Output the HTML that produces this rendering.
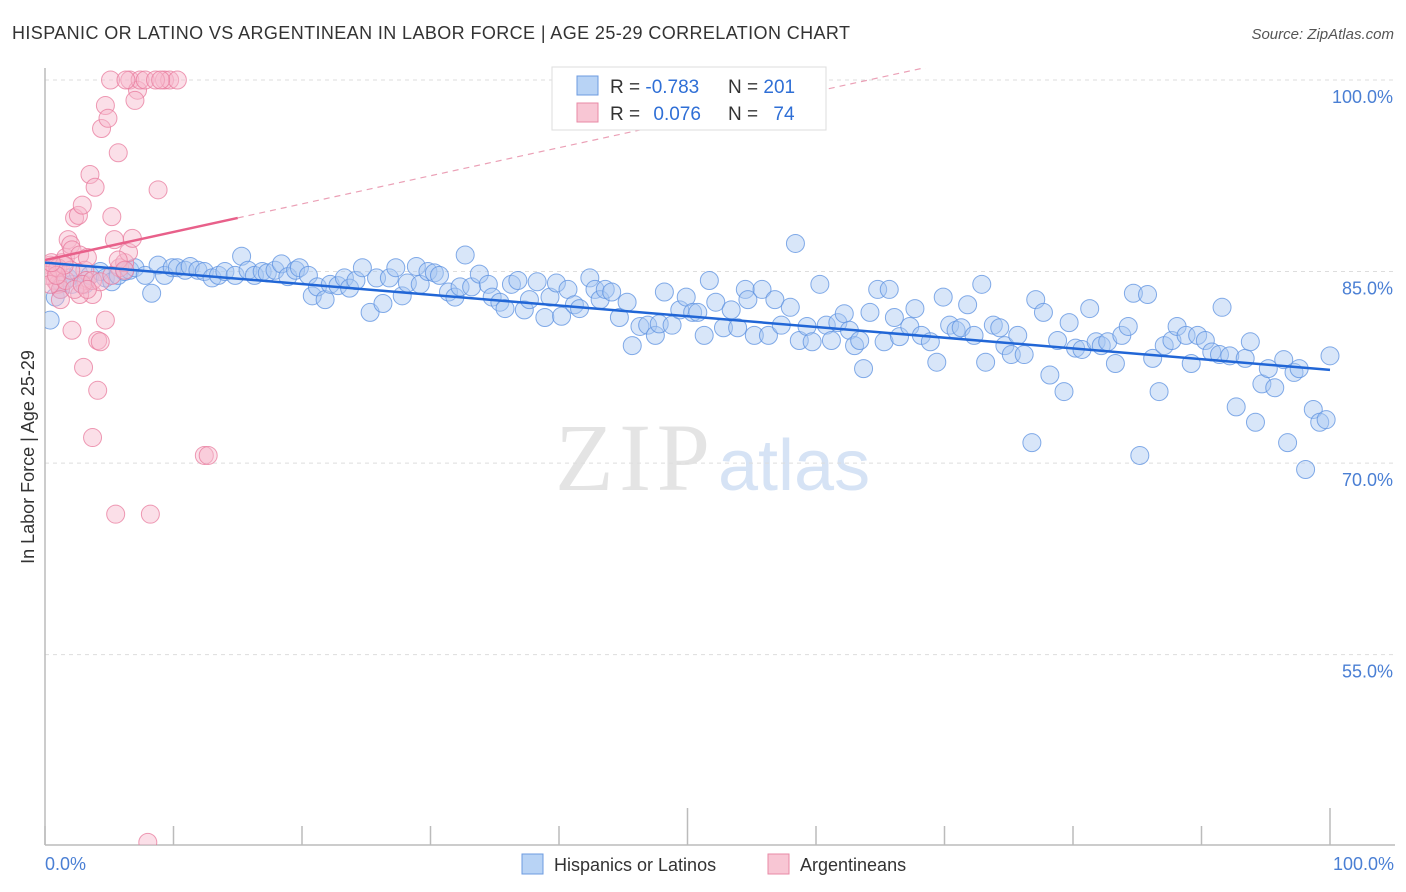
<!DOCTYPE html>
<html><head><meta charset="utf-8"><style>
body{margin:0;background:#fff;font-family:"Liberation Sans",sans-serif}
svg{display:block}
</style></head><body>
<svg id="chart" width="1406" height="892" viewBox="0 0 1406 892" xmlns="http://www.w3.org/2000/svg">
<text x="12" y="39" font-size="18" fill="#333" textLength="838" lengthAdjust="spacing" font-family="Liberation Sans, sans-serif">HISPANIC OR LATINO VS ARGENTINEAN IN LABOR FORCE | AGE 25-29 CORRELATION CHART</text>
<text x="1394" y="39" font-size="15" fill="#555" font-style="italic" text-anchor="end">Source: ZipAtlas.com</text>
<text x="555" y="490" font-size="96" fill="#e4e4e4" textLength="155" font-family="Liberation Serif, serif">ZIP</text>
<text x="718" y="490" font-size="72" fill="#d6e3f5">atlas</text>
<g id="grid"></g>
<g id="axes"></g>
<defs><clipPath id="plotclip"><rect x="45" y="68" width="1350" height="777"/></clipPath></defs>
<g id="marks" clip-path="url(#plotclip)"></g>
<text transform="translate(34,457) rotate(-90)" font-size="18" fill="#333" text-anchor="middle">In Labor Force | Age 25-29</text>
<text x="45" y="870" font-size="18" fill="#4a7fd4">0.0%</text>
<text x="1394" y="870" font-size="18" fill="#4a7fd4" text-anchor="end">100.0%</text>
<g>
<rect x="552" y="67" width="274" height="63" fill="#fff" stroke="#ddd"/>
<rect x="577" y="76" width="21" height="19" fill="#b8d3f5" stroke="#6c9be0"/>
<rect x="577" y="103" width="21" height="19" fill="#f8c6d4" stroke="#e88aa6"/>
<text x="610" y="93" font-size="19" fill="#333">R = <tspan fill="#2f6fd6">-0.783</tspan></text>
<text x="728" y="93" font-size="19" fill="#333">N = <tspan fill="#2f6fd6">201</tspan></text>
<text x="610" y="120" font-size="19" fill="#333">R = <tspan fill="#2f6fd6" dx="8">0.076</tspan></text>
<text x="728" y="120" font-size="19" fill="#333">N = <tspan fill="#2f6fd6" dx="10">74</tspan></text>
</g>
<g>
<rect x="522" y="854" width="21" height="20" fill="#b8d3f5" stroke="#6c9be0"/>
<text x="554" y="871" font-size="18" fill="#333">Hispanics or Latinos</text>
<rect x="768" y="854" width="21" height="20" fill="#f8c6d4" stroke="#e88aa6"/>
<text x="800" y="871" font-size="18" fill="#333">Argentineans</text>
</g>
</svg>
<script>
const yTicks=[100,85,70,55];
const yTickLabels=["100.0%","85.0%","70.0%","55.0%"];
const xTicks=[0,10,20,30,40,50,60,70,80,90,100];
const blueX=[0.4,0.8,1.2,1.3,1.8,2.1,2.6,3.1,3.5,4.3,4.7,5.2,5.7,6.2,6.6,7.0,7.8,8.3,8.8,9.3,9.9,10.3,10.9,11.3,11.9,12.4,13.0,13.5,14.0,14.8,15.3,15.8,16.3,16.9,17.3,17.9,18.4,18.9,19.5,19.8,20.5,20.8,21.2,21.8,22.2,22.8,23.3,23.7,24.2,24.7,25.3,25.8,26.3,26.8,27.3,27.8,28.2,28.9,29.2,29.8,30.3,30.7,31.4,31.9,32.3,32.7,33.2,33.8,34.5,34.8,35.4,35.8,36.3,36.8,37.3,37.7,38.3,38.9,39.3,39.8,40.2,40.7,41.2,41.6,42.4,42.8,43.2,43.6,44.1,44.7,45.3,45.7,46.3,46.9,47.5,47.8,48.2,48.8,49.4,49.9,50.4,50.8,51.3,51.7,52.2,52.8,53.4,53.9,54.5,54.7,55.2,55.8,56.3,56.8,57.3,58.0,58.4,58.7,59.3,59.7,60.3,60.8,61.2,61.7,62.2,62.6,63.0,63.4,63.7,64.2,64.8,65.3,65.7,66.1,66.5,67.3,67.7,68.2,68.9,69.4,69.9,70.4,70.9,71.3,71.8,72.3,72.9,73.2,73.8,74.3,74.7,75.2,75.7,76.2,76.8,77.1,77.7,78.2,78.8,79.3,79.7,80.2,80.7,81.3,81.8,82.2,82.7,83.3,83.8,84.3,84.7,85.2,85.8,86.2,86.7,87.1,87.7,88.1,88.8,89.2,89.7,90.3,90.8,91.4,91.6,92.2,92.7,93.4,93.8,94.2,94.7,95.2,95.7,96.4,96.7,97.2,97.6,98.1,98.7,99.2,99.7,100.0];
const blueY=[81.2,83.0,83.6,84.1,84.5,84.0,84.9,84.0,84.7,85.0,84.5,84.2,84.7,85.0,85.1,85.3,84.7,83.3,85.5,84.7,85.3,85.3,85.1,85.4,85.1,85.0,84.5,84.7,85.0,84.7,86.2,85.1,84.7,85.0,84.9,85.1,85.6,84.6,85.1,85.3,84.7,83.1,83.8,82.8,84.0,83.9,84.5,83.7,84.3,85.3,81.8,84.5,82.5,84.5,85.3,83.1,84.1,85.4,84.0,85.0,84.9,84.7,83.4,83.0,83.8,86.3,83.8,84.8,84.0,83.0,82.6,82.1,84.0,84.3,82.0,82.8,84.2,81.4,83.0,84.1,81.5,83.6,82.4,82.1,84.5,83.6,82.8,83.6,83.4,81.4,82.6,79.2,80.7,80.8,80.0,80.9,83.4,80.8,82.0,83.0,81.8,81.8,80.0,84.3,82.6,80.6,82.0,80.6,83.6,82.8,80.0,83.6,80.0,82.8,80.8,82.2,87.2,79.6,80.7,79.5,84.0,80.8,79.6,81.0,81.7,80.4,79.2,79.6,77.4,81.8,83.6,79.5,83.6,81.4,79.9,80.7,82.1,80.0,79.5,77.9,83.0,80.8,80.4,80.6,82.4,80.0,84.0,77.9,80.8,80.6,79.2,78.5,80.0,78.5,71.6,82.8,81.8,76.9,79.6,75.6,81.0,79.0,78.9,82.1,79.5,79.2,79.5,77.8,80.0,80.7,83.3,70.6,83.2,78.2,75.6,79.2,79.6,80.7,80.0,77.8,80.0,79.6,78.7,78.5,82.2,78.4,74.4,78.2,79.5,73.2,76.2,77.4,75.9,78.1,71.6,77.1,77.4,69.5,74.2,73.2,73.4,78.4];
const pinkX=[0.4,0.5,0.8,1.0,1.2,1.3,1.6,1.8,2.0,2.1,2.3,2.6,2.7,2.9,3.1,3.3,3.5,3.7,3.9,4.1,4.3,4.4,4.7,4.9,5.1,5.2,5.4,5.7,5.8,6.2,6.5,6.6,6.8,7.2,7.4,8.2,8.8,9.3,9.7,10.3,12.4,12.7,8.0,5.5,3.7,4.1,3.0,2.1,3.2,2.7,1.2,0.8,0.2,0.4,1.0,1.6,2.3,2.9,3.7,4.3,4.7,5.2,5.7,6.2,3.3,2.0,1.5,0.9,0.5,7.0,7.8,8.6,9.0,6.3];
const pinkY=[85.5,85.0,84.3,84.0,83.6,85.7,86.1,87.5,87.1,86.7,89.2,89.4,86.3,90.2,85.1,86.1,92.6,83.2,91.6,79.6,79.5,96.2,98.0,97.0,100,89.3,87.5,94.3,85.3,85.7,86.5,100,87.6,99.2,100,66.0,91.4,100,100,100,70.6,70.6,40.3,66.0,72.0,75.7,77.5,80.4,84.3,83.2,82.8,85.3,84.7,84.0,85.3,84.3,83.6,84.0,84.3,84.2,81.2,84.7,85.9,85.1,83.6,85.1,85.5,84.7,85.7,98.4,100,100,100,100];
const blueTrend=[[0,85.7],[100,77.3]];
const pinkTrendSolid=[[0,85.9],[15,89.2]];
const pinkTrendDash=[[15,89.2],[100,107.9]];

const NS="http://www.w3.org/2000/svg";
const X=v=>45+v*12.85;
const Y=v=>80+(100-v)*12.77;
function mk(tag,attrs,parent){const e=document.createElementNS(NS,tag);for(const k in attrs)e.setAttribute(k,attrs[k]);parent.appendChild(e);return e;}
const grid=document.getElementById('grid'),axes=document.getElementById('axes'),marks=document.getElementById('marks');
yTicks.forEach((t,i)=>{
  const l=mk('line',{x1:45,x2:1395,y1:Y(t),y2:Y(t),stroke:'#ddd','stroke-dasharray':'4,4'},grid);
  
  
  const tx=mk('text',{x:1393,y:Y(t)+23,'font-size':18,fill:'#4a7fd4','text-anchor':'end'},grid);
  tx.textContent=yTickLabels[i];
  
  
});
const ax=mk('line',{x1:45,x2:45,y1:68,y2:845,stroke:'#bbb','stroke-width':1.5},axes);


const bx=mk('line',{x1:45,x2:1395,y1:845,y2:845,stroke:'#bbb','stroke-width':1.5},axes);


xTicks.forEach(t=>{
  const tk=mk('line',{x1:X(t),x2:X(t),y1:(t===50||t===100)?808:826,y2:845,stroke:'#bbb','stroke-width':1.5},axes);
  
  
});
function dots(xs,ys,fill,stroke,name){
  xs.forEach((v,i)=>{
    const c=mk('circle',{cx:X(v),cy:Y(ys[i]),r:9,fill:fill,'fill-opacity':0.45,stroke:stroke,'stroke-opacity':0.75,'stroke-width':1},marks);
    
    
  });
}
dots(blueX,blueY,'#a9c8f2','#5b90e0','hispanic-point');
dots(pinkX,pinkY,'#f6b9cb','#e87a9c','argentinean-point');
function line(p,stroke,w,dash,name){
  const l=mk('line',{x1:X(p[0][0]),y1:Y(p[0][1]),x2:X(p[1][0]),y2:Y(p[1][1]),stroke:stroke,'stroke-width':w},marks);
  if(dash)l.setAttribute('stroke-dasharray',dash);
  
  
}
line(blueTrend,'#2166d6',2.5,null,'hispanic-trend-line');
line(pinkTrendSolid,'#e8608a',2.5,null,'argentinean-trend-line');
line(pinkTrendDash,'#eba0b6',1.2,'6,5','argentinean-trend-extension');
</script>
</body></html>
